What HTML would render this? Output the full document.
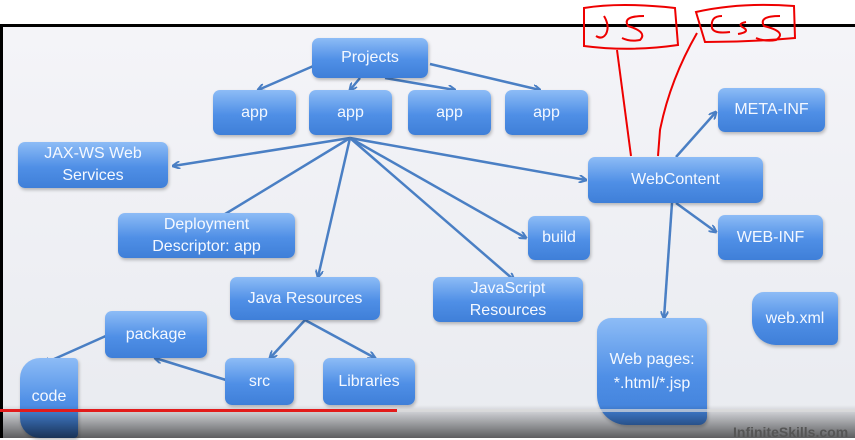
<!DOCTYPE html>
<html><head><style>
body{margin:0;width:855px;height:438px;overflow:hidden;background:#fff;font-family:"Liberation Sans",sans-serif;}
#slide{position:absolute;left:0;top:24px;width:855px;height:414px;background:linear-gradient(#f4f4f8,#e9ebf0);border-top:3px solid #000;border-left:3px solid #000;box-sizing:border-box;}
.b{position:absolute;border-radius:7px;background:linear-gradient(#8dbcf6,#4f8fe6 55%,#3f7fd8);color:#f4f8ff;font-size:16px;display:flex;align-items:center;justify-content:center;text-align:center;line-height:22px;box-shadow:1px 2px 3px rgba(0,0,0,.25);}
#bot{position:absolute;left:0;top:405px;width:855px;height:33px;background:linear-gradient(rgba(0,0,0,0),rgba(0,0,0,.6));}
</style></head><body>
<div id="slide"></div>
<svg style="position:absolute;left:0;top:0" width="855" height="438">
<defs><marker id="a" markerWidth="8" markerHeight="8" refX="7" refY="4" orient="auto" markerUnits="userSpaceOnUse"><path d="M0,0 L8,4 L0,8" fill="none" stroke="#4a7fc4" stroke-width="2"/></marker></defs>
<g stroke="#4a7fc4" stroke-width="2.5" fill="none" marker-end="url(#a)">
<line x1="318" y1="64" x2="258" y2="90"/><line x1="360" y1="78" x2="350" y2="90"/>
<line x1="385" y1="78" x2="455" y2="90"/><line x1="430" y1="64" x2="540" y2="90"/>
<line x1="350" y1="138" x2="173" y2="166"/><line x1="350" y1="138" x2="212" y2="222"/>
<line x1="350" y1="138" x2="318" y2="277"/><line x1="350" y1="138" x2="514" y2="280"/>
<line x1="350" y1="138" x2="526" y2="238"/><line x1="350" y1="138" x2="586" y2="180"/>
<line x1="676" y1="157" x2="716" y2="112"/><line x1="676" y1="203" x2="716" y2="232"/>
<line x1="672" y1="203" x2="664" y2="318"/>
<line x1="305" y1="320" x2="270" y2="358"/><line x1="305" y1="320" x2="375" y2="358"/>
<line x1="226" y1="380" x2="155" y2="358"/><line x1="108" y1="335" x2="43" y2="364"/>
</g></svg>
<div class="b" style="left:312px;top:38px;width:116px;height:40px">Projects</div>
<div class="b" style="left:213px;top:90px;width:83px;height:45px">app</div>
<div class="b" style="left:309px;top:90px;width:83px;height:45px">app</div>
<div class="b" style="left:408px;top:90px;width:83px;height:45px">app</div>
<div class="b" style="left:505px;top:90px;width:83px;height:45px">app</div>
<div class="b" style="left:18px;top:142px;width:150px;height:46px">JAX-WS Web<br>Services</div>
<div class="b" style="left:118px;top:213px;width:177px;height:45px">Deployment<br>Descriptor: app</div>
<div class="b" style="left:528px;top:216px;width:62px;height:44px">build</div>
<div class="b" style="left:588px;top:157px;width:175px;height:46px">WebContent</div>
<div class="b" style="left:718px;top:88px;width:107px;height:44px">META-INF</div>
<div class="b" style="left:718px;top:215px;width:105px;height:45px">WEB-INF</div>
<div class="b" style="left:230px;top:277px;width:150px;height:43px">Java Resources</div>
<div class="b" style="left:433px;top:277px;width:150px;height:45px">JavaScript<br>Resources</div>
<div class="b" style="left:105px;top:311px;width:102px;height:47px">package</div>
<div class="b" style="left:225px;top:358px;width:69px;height:47px">src</div>
<div class="b" style="left:323px;top:358px;width:92px;height:47px">Libraries</div>
<div class="b" style="left:20px;top:358px;width:58px;height:80px;border-radius:20px 4px 4px 20px;align-items:flex-start;padding-top:28px;box-sizing:border-box">code</div>
<div class="b" style="left:597px;top:318px;width:110px;height:107px;border-radius:14px 8px 8px 30px;line-height:24px">Web pages:<br>*.html/*.jsp</div>
<div class="b" style="left:752px;top:292px;width:86px;height:53px;border-radius:12px 6px 6px 24px">web.xml</div>
<div id="bot"></div>
<div style="position:absolute;left:0;top:409px;width:397px;height:3px;background:#e21b1b"></div>
<div style="position:absolute;left:397px;top:409px;width:458px;height:3px;background:rgba(220,220,220,.7)"></div>
<div style="position:absolute;left:733px;top:424px;font-size:14px;font-weight:bold;color:#555">InfiniteSkills.com</div>
<svg style="position:absolute;left:0;top:0" width="855" height="438">
<g stroke="#e00" stroke-width="2" fill="none">
<path d="M584,8 Q620,2 675,8 L678,45 Q630,52 584,46 Z"/>
<path d="M696,12 Q740,2 794,6 L795,38 Q750,42 705,42 Z"/>
<path d="M617,50 L631,156"/><path d="M697,33 Q670,80 660,130 L658,156"/>
<path d="M604,16 Q610,26 606,34 Q602,40 596,36"/>
<path d="M644,16 Q622,16 628,26 Q648,32 640,40 Q630,42 622,38"/>
<path d="M722,16 Q710,16 712,28 Q714,34 730,32"/>
<path d="M746,22 Q736,24 744,28 Q750,32 738,34"/>
<path d="M780,16 Q758,16 764,26 Q788,32 776,40 Q766,42 756,38"/>
</g></svg>
</body></html>
